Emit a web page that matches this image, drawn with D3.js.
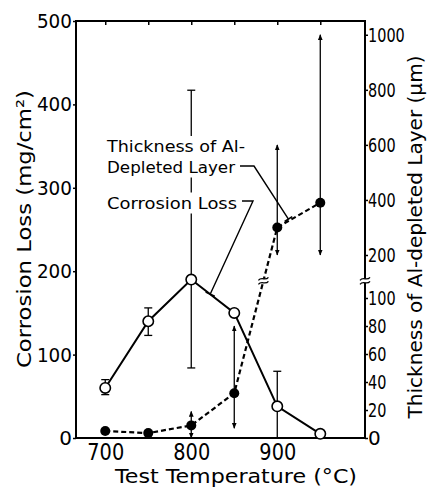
<!DOCTYPE html>
<html>
<head>
<meta charset="utf-8">
<script src="https://cdn.jsdelivr.net/npm/d3@7"></script>
<style>
  html, body { margin: 0; padding: 0; background: #fff; }
  svg { display: block; }
</style>
</head>
<body>
<div id="chart"></div>
<script>
// Test temperature (°C)
var temps = [700, 750, 800, 850, 900, 950];

// Corrosion loss (mg/cm2), open circles, left axis
var lossValues = [60, 140, 190, 150, 38, 5];
var lossLow    = [52, 123, 84, null, 0, null];
var lossHigh   = [70, 156, 417, null, 80, null];

// Thickness of Al-depleted layer (um), filled circles, right (broken) axis
var layerValues = [5, 3.5, 9, 32, 300, 390];
var layerLow    = [null, null, 0, 7, 200, 200];
var layerHigh   = [null, null, 19, 80, 600, 1000];

var xTickValues = [700, 800, 900];
var xTopTicks = [700, 750, 800, 850, 900, 950];
var lossTicks = [0, 100, 200, 300, 400, 500];
var layerTicks = [0, 20, 40, 60, 80, 100, 200, 400, 600, 800, 1000];

var W = 428, H = 489;
var m = { top: 21, right: 63, bottom: 51, left: 76 };
var FONT = '"DejaVu Sans", Verdana, sans-serif';

var svg = d3.select('#chart').append('svg')
    .attr('width', W)
    .attr('height', H)
    .attr('viewBox', '0 0 ' + W + ' ' + H);

var x = d3.scaleLinear().domain([666, 1002]).range([m.left, W - m.right]);
var yL = d3.scaleLinear().domain([0, 500]).range([H - m.bottom, m.top]);
// broken scale: 0-100 stretched at the bottom, 200-1050 compressed above
var yR = d3.scaleLinear().domain([0, 100, 200, 1050]).range([H - m.bottom, 298, 255, m.top]);

var defs = svg.append('defs');
defs.append('marker')
    .attr('id', 'arr')
    .attr('viewBox', '0 0 10 10')
    .attr('refX', 9).attr('refY', 5)
    .attr('markerUnits', 'userSpaceOnUse')
    .attr('markerWidth', 6).attr('markerHeight', 6)
    .attr('orient', 'auto-start-reverse')
    .append('path')
    .attr('d', 'M0,1 L10,5 L0,9 Z')
    .attr('fill', '#000');

// squeeze text to the narrow lettering of the original
function fit(sel, perChar) {
    sel.each(function() {
        var t = d3.select(this);
        var n = t.text().length;
        if (n > 1) t.attr('textLength', n * perChar).attr('lengthAdjust', 'spacingAndGlyphs');
    });
}

// Axes
var fmt = d3.format('d');
var gLeft = svg.append('g')
    .attr('transform', 'translate(' + m.left + ',0)')
    .call(d3.axisLeft(yL).tickValues(lossTicks).tickFormat(fmt).tickSize(3).tickSizeOuter(0).tickPadding(1));
var gRight = svg.append('g')
    .attr('transform', 'translate(' + (W - m.right) + ',0)')
    .call(d3.axisRight(yR).tickValues(layerTicks).tickFormat(fmt).tickSize(3).tickSizeOuter(0).tickPadding(0));
var gBottom = svg.append('g')
    .attr('transform', 'translate(0,' + (H - m.bottom) + ')')
    .call(d3.axisBottom(x).tickValues(xTickValues).tickFormat(fmt).tickSize(0).tickSizeOuter(0).tickPadding(6));
var gTop = svg.append('g')
    .attr('transform', 'translate(0,' + m.top + ')')
    .call(d3.axisTop(x).tickValues(xTopTicks).tickSize(-4).tickSizeOuter(0).tickFormat(''));

[gLeft, gRight, gBottom, gTop].forEach(function(g) {
    g.select('.domain').remove();
    g.attr('font-family', FONT);
    g.selectAll('.tick line').attr('stroke', '#000').attr('stroke-width', 1.5);
    g.selectAll('.tick text').attr('fill', '#000');
});
gLeft.attr('font-size', 20);
gRight.attr('font-size', 20);
gBottom.attr('font-size', 23);
fit(gLeft.selectAll('.tick text'), 11.7);
fit(gRight.selectAll('.tick text'), 9.2);
fit(gBottom.selectAll('.tick text'), 12.3);

// Frame
svg.append('rect')
    .attr('x', m.left).attr('y', m.top)
    .attr('width', W - m.left - m.right)
    .attr('height', H - m.top - m.bottom)
    .attr('fill', 'none')
    .attr('stroke', '#000')
    .attr('stroke-width', 2);

// Axis titles
svg.append('text')
    .attr('x', 236).attr('y', 483)
    .attr('text-anchor', 'middle')
    .attr('font-family', FONT).attr('font-size', 20)
    .attr('textLength', 242).attr('lengthAdjust', 'spacingAndGlyphs')
    .text('Test  Temperature (\u00b0C)');

svg.append('text')
    .attr('transform', 'translate(31,229) rotate(-90)')
    .attr('text-anchor', 'middle')
    .attr('font-family', FONT).attr('font-size', 20)
    .attr('textLength', 278).attr('lengthAdjust', 'spacingAndGlyphs')
    .text('Corrosion Loss (mg/cm\u00b2)');

svg.append('text')
    .attr('transform', 'translate(422,237) rotate(-90)')
    .attr('text-anchor', 'middle')
    .attr('font-family', FONT).attr('font-size', 19)
    .attr('textLength', 363).attr('lengthAdjust', 'spacingAndGlyphs')
    .text('Thickness of Al-depleted Layer (\u03bcm)');

// Error bars - corrosion loss (capped)
var gErr = svg.append('g').attr('stroke', '#000').attr('stroke-width', 1.3);
temps.forEach(function(t, i) {
    if (lossLow[i] == null) return;
    var cx = x(t);
    gErr.append('line').attr('x1', cx).attr('x2', cx)
        .attr('y1', yL(lossLow[i])).attr('y2', yL(lossHigh[i]));
    [lossLow[i], lossHigh[i]].forEach(function(v) {
        gErr.append('line').attr('x1', cx - 4).attr('x2', cx + 4)
            .attr('y1', yL(v)).attr('y2', yL(v));
    });
});

// Error bars - depleted layer (arrow ends)
temps.forEach(function(t, i) {
    if (layerLow[i] == null) return;
    gErr.append('line')
        .attr('x1', x(t)).attr('x2', x(t))
        .attr('y1', yR(layerLow[i])).attr('y2', yR(layerHigh[i]))
        .attr('marker-start', 'url(#arr)')
        .attr('marker-end', 'url(#arr)');
});

// Lines
var lossLine = d3.line().x(function(d, i) { return x(temps[i]); }).y(function(d) { return yL(d); });
var layerLine = d3.line().x(function(d, i) { return x(temps[i]); }).y(function(d) { return yR(d); });

svg.append('path').datum(layerValues)
    .attr('d', layerLine)
    .attr('fill', 'none').attr('stroke', '#000')
    .attr('stroke-width', 2.2).attr('stroke-dasharray', '5,3');

svg.append('path').datum(lossValues)
    .attr('d', lossLine)
    .attr('fill', 'none').attr('stroke', '#000')
    .attr('stroke-width', 2);

// Points
svg.append('g').selectAll('circle').data(layerValues).join('circle')
    .attr('cx', function(d, i) { return x(temps[i]); })
    .attr('cy', function(d) { return yR(d); })
    .attr('r', 5).attr('fill', '#000');

svg.append('g').selectAll('circle').data(lossValues).join('circle')
    .attr('cx', function(d, i) { return x(temps[i]); })
    .attr('cy', function(d) { return yL(d); })
    .attr('r', 5.2).attr('fill', '#fff')
    .attr('stroke', '#000').attr('stroke-width', 1.6);

// Break marks on the right axis and on the dashed line
var breakY = yR(140);
function breakMark(cx, cy) {
    var g = svg.append('g').attr('transform', 'translate(' + cx + ',' + cy + ')');
    g.append('rect').attr('x', -5).attr('y', -2).attr('width', 10).attr('height', 4).attr('fill', '#fff');
    [-2, 2].forEach(function(d) {
        g.append('path')
            .attr('d', 'M-5,' + (d + 1.5) + ' C-2,' + (d - 2.5) + ' 2,' + (d + 2.5) + ' 5,' + (d - 1.5))
            .attr('fill', 'none').attr('stroke', '#000').attr('stroke-width', 1.3);
    });
}
breakMark(W - m.right, breakY);
// where the 850-900 dashed segment crosses the break
(function() {
    var x1 = x(temps[3]), y1 = yR(layerValues[3]);
    var x2 = x(temps[4]), y2 = yR(layerValues[4]);
    var t = (breakY - y1) / (y2 - y1);
    breakMark(x1 + t * (x2 - x1), breakY);
})();

// Annotations
function annot(lines, x0, baselines) {
    var g = svg.append('g');
    var bg = g.append('rect').attr('fill', '#fff');
    var texts = lines.map(function(s, i) {
        return g.append('text')
            .attr('x', x0).attr('y', baselines[i])
            .attr('font-family', FONT).attr('font-size', 16)
            .text(s);
    });
    return { g: g, bg: bg, texts: texts };
}

var aLayer = annot(['Thickness of Al-', 'Depleted Layer'], 107, [152, 172.5]);
aLayer.texts[0].attr('textLength', 138).attr('lengthAdjust', 'spacingAndGlyphs');
aLayer.texts[1].attr('textLength', 128).attr('lengthAdjust', 'spacingAndGlyphs');
var aLoss = annot(['Corrosion Loss'], 107, [208.5]);
aLoss.texts[0].attr('textLength', 130).attr('lengthAdjust', 'spacingAndGlyphs');

[aLayer, aLoss].forEach(function(a) {
    var b = a.g.node().getBBox();
    a.bg.attr('x', b.x - 2).attr('y', b.y - 1).attr('width', b.width + 4).attr('height', b.height + 2);
});

function onSeg(vals, scale, tx) {
    var i = d3.bisectRight(temps, tx) - 1;
    var t = (tx - temps[i]) / (temps[i + 1] - temps[i]);
    var ya = scale(vals[i]), yb = scale(vals[i + 1]);
    return [x(tx), ya + t * (yb - ya)];
}

function leader(pts, tickLen) {
    svg.append('path')
        .attr('d', d3.line()(pts))
        .attr('fill', 'none').attr('stroke', '#000').attr('stroke-width', 1.4);
    var a = pts[pts.length - 2], b = pts[pts.length - 1];
    var dx = b[0] - a[0], dy = b[1] - a[1];
    var L = Math.sqrt(dx * dx + dy * dy);
    var px = -dy / L * tickLen / 2, py = dx / L * tickLen / 2;
    svg.append('line')
        .attr('x1', b[0] - px).attr('y1', b[1] - py)
        .attr('x2', b[0] + px).attr('y2', b[1] + py)
        .attr('stroke', '#000').attr('stroke-width', 1.6);
}

var layerEnd = onSeg(layerValues, yR, 913);
layerEnd[1] -= 2;
leader([[240, 166], [254, 166], layerEnd], 9);

var lossEnd = onSeg(lossValues, yL, 822);
leader([[242, 201], [253, 201], lossEnd], 10);
</script>
</body>
</html>
